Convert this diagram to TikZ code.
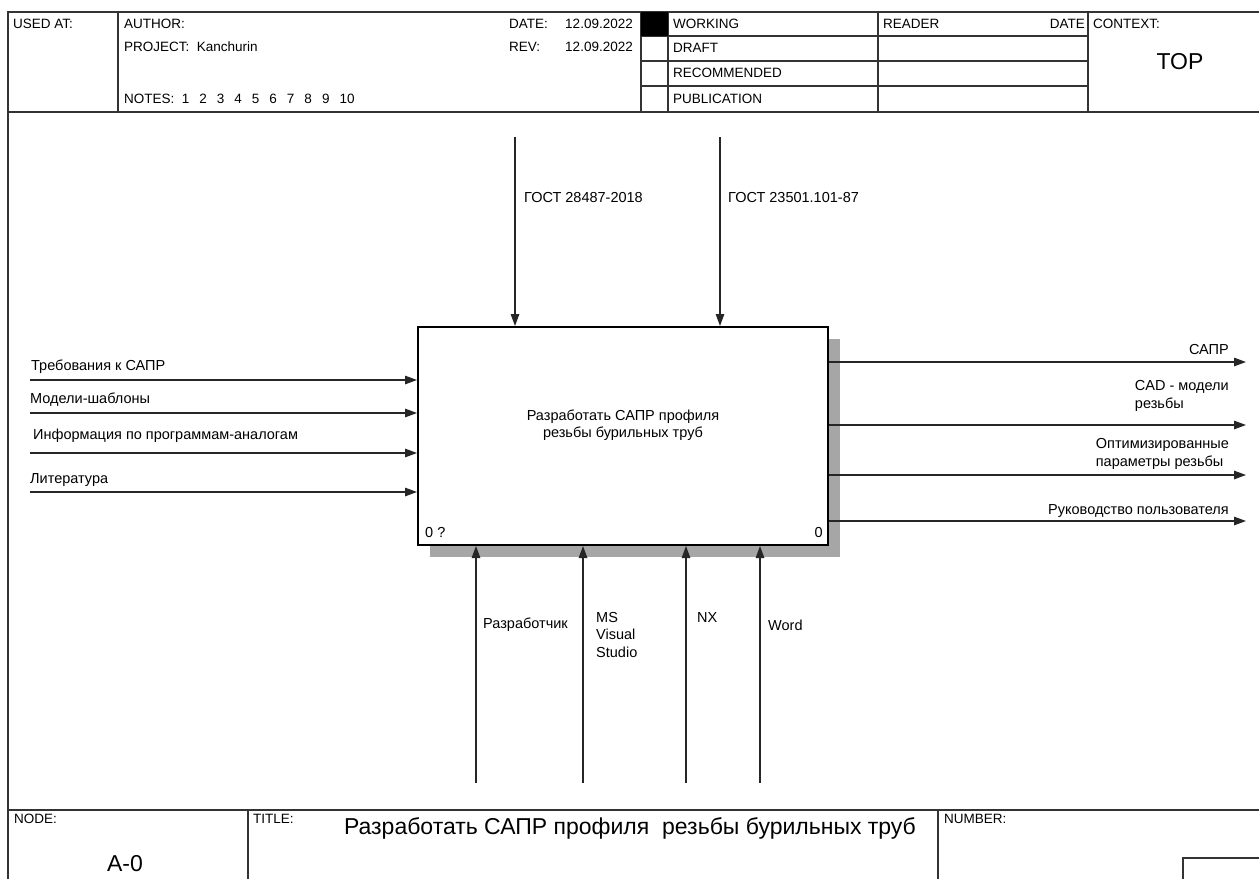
\documentclass[tikz,border=0pt]{standalone}
\usepackage{fontspec}
\setmainfont{Liberation Sans}
\usetikzlibrary{arrows.meta}
\newcommand{\hdrfont}{\fontsize{13.5}{16}\selectfont}
\newcommand{\lblfont}{\fontsize{14.5}{17.5}\selectfont}
\newcommand{\bigfont}{\fontsize{23}{27}\selectfont}
\newcommand{\nsp}{\hspace{10pt}}
\begin{document}
\begin{tikzpicture}[x=1pt,y=-1pt,
  frame/.style={line width=1.4pt,black!80},
  arr/.style={line width=1.3pt,black!85,-{Triangle[length=12pt,width=8.5pt]}},
  htxt/.style={font=\hdrfont,inner sep=0pt,anchor=west},
  ltxt/.style={font=\lblfont,inner sep=0pt,anchor=west,align=left},
  rtxt/.style={font=\lblfont,inner sep=0pt,anchor=east,align=left},
  fn/.style={draw=black,line width=2pt,fill=white,minimum width=410pt,minimum height=218pt,inner sep=0pt}]
\useasboundingbox (0,0) rectangle (1259,879);
% frame
\draw[frame] (8,879) -- (8,12) -- (1259,12);
\draw[frame] (8,112) -- (1259,112);
\foreach \x in {118,641,668,878,1088} \draw[frame] (\x,12) -- (\x,112);
\foreach \y in {36,61,86} \draw[frame] (641,\y) -- (1088,\y);
\fill (641,12) rectangle (668,36);
\node[htxt] (usedat) at (13,24) {USED AT:};
\node[htxt] (author) at (124,24) {AUTHOR:};
\node[htxt] (project) at (124,47) {PROJECT:\ \ Kanchurin};
\node[htxt] (notes) at (124,99) {NOTES:\ \ 1\nsp 2\nsp 3\nsp 4\nsp 5\nsp 6\nsp 7\nsp 8\nsp 9\nsp 10};
\node[htxt] (datel) at (509,24) {DATE:};
\node[htxt,anchor=east] (datev) at (633,24) {12.09.2022};
\node[htxt] (revl) at (509,47) {REV:};
\node[htxt,anchor=east] (revv) at (633,47) {12.09.2022};
\node[htxt] (working) at (673,24) {WORKING};
\node[htxt] (draft) at (673,48) {DRAFT};
\node[htxt] (recom) at (673,73) {RECOMMENDED};
\node[htxt] (publ) at (673,99) {PUBLICATION};
\node[htxt] (reader) at (883,24) {READER};
\node[htxt,anchor=east] (rdate) at (1085,24) {DATE};
\node[htxt] (context) at (1093,24) {CONTEXT:};
\node[font=\bigfont,inner sep=0pt] (top) at (1180,62) {TOP};
% bottom
\draw[frame] (8,810) -- (1259,810);
\draw[frame] (248,810) -- (248,879);
\draw[frame] (938,810) -- (938,879);
\draw[frame] (1183,879) -- (1183,858) -- (1259,858);
\node[htxt] (nodel) at (14,819) {NODE:};
\node[font=\bigfont,inner sep=0pt] (nodev) at (125,864) {A-0};
\node[htxt] (titlel) at (253,819) {TITLE:};
\node[font=\bigfont,inner sep=0pt] (titlev) at (630,828) {Разработать САПР профиля\ \ резьбы бурильных труб};
\node[htxt] (numl) at (944,819) {NUMBER:};
% main function box
\fill[black!35] (430,339) rectangle (840,557);
\node[fn] (box) at (623,436) {};
\node[font=\lblfont,align=center,inner sep=0pt] (boxtext) at ([yshift=11pt]box.center) {Разработать САПР профиля\\резьбы бурильных труб};
\node[ltxt] (n0) at ([xshift=8pt,yshift=14pt]box.south west) {0 ?};
\node[rtxt] (n1) at ([xshift=-6pt,yshift=14pt]box.south east) {0};
% controls
\coordinate (c1) at (515,137);
\coordinate (c2) at (720,137);
\draw[arr] (c1) -- (c1 |- box.north);
\draw[arr] (c2) -- (c2 |- box.north);
\node[ltxt] (c1l) at (524,198) {ГОСТ 28487-2018};
\node[ltxt] (c2l) at (728,198) {ГОСТ 23501.101-87};
% inputs
\coordinate (i1) at (30,380);
\coordinate (i2) at (30,413);
\coordinate (i3) at (30,453);
\coordinate (i4) at (30,492);
\foreach \i in {i1,i2,i3,i4} \draw[arr] (\i) -- (\i -| box.west);
\node[ltxt] (i1l) at (31,367) {Требования к САПР};
\node[ltxt] (i2l) at (30,400) {Модели-шаблоны};
\node[ltxt] (i3l) at (33,436) {Информация по программам-аналогам};
\node[ltxt] (i4l) at (30,480) {Литература};
% outputs
\coordinate (o1) at (1246,362);
\coordinate (o2) at (1246,425);
\coordinate (o3) at (1246,475);
\coordinate (o4) at (1246,521);
\foreach \o in {o1,o2,o3,o4} \draw[arr] (\o -| box.east) -- (\o);
\node[rtxt] (o1l) at (1229,350) {САПР};
\node[rtxt] (o2l) at (1229,396) {CAD - модели\\резьбы};
\node[rtxt] (o3l) at (1229,454) {Оптимизированные\\параметры резьбы};
\node[rtxt] (o4l) at (1229,511) {Руководство пользователя};
% mechanisms
\coordinate (m1) at (476,783);
\coordinate (m2) at (583,783);
\coordinate (m3) at (686,783);
\coordinate (m4) at (760,783);
\foreach \m in {m1,m2,m3,m4} \draw[arr] (\m) -- (\m |- box.south);
\node[ltxt] (m1l) at (483,625) {Разработчик};
\node[ltxt,anchor=north west] (m2l) at (596,612) {MS\\Visual\\Studio};
\node[ltxt] (m3l) at (697,618) {NX};
\node[ltxt] (m4l) at (768,625) {Word};
\end{tikzpicture}
\end{document}
